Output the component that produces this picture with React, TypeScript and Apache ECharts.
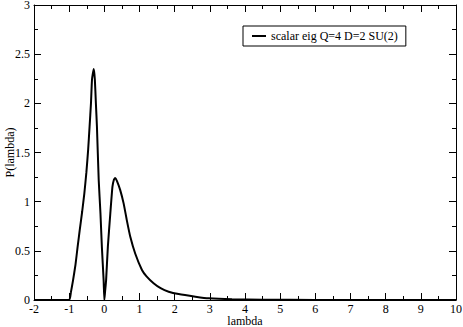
import React, { useEffect, useRef } from "react";
import * as echarts from "echarts";

const lambdaValues = [-2, -1, -0.95, -0.89, -0.82, -0.76, -0.7, -0.63, -0.57, -0.51, -0.46, -0.42, -0.38, -0.35, -0.3, -0.27, -0.24, -0.21, -0.16, -0.11, -0.07, -0.02, 0.0, 0.02, 0.05, 0.1, 0.17, 0.23, 0.27, 0.31, 0.36, 0.45, 0.55, 0.64, 0.74, 0.88, 1.07, 1.2, 1.4, 1.6, 1.83, 2.11, 2.59, 2.97, 3.63, 4.5, 6, 8, 10];
const pValues = [0, 0, 0.08, 0.2, 0.36, 0.54, 0.71, 0.9, 1.08, 1.3, 1.53, 1.76, 2.0, 2.245, 2.35, 2.245, 2.0, 1.76, 1.22, 0.88, 0.54, 0.2, 0.0, 0.08, 0.2, 0.54, 0.88, 1.15, 1.22, 1.24, 1.21, 1.12, 0.98, 0.81, 0.64, 0.47, 0.305, 0.24, 0.17, 0.12, 0.084, 0.06, 0.034, 0.017, 0.007, 0.003, 0.001, 0.0, 0.0];
const seriesName = "scalar eig Q=4 D=2 SU(2)";

const FONT = "'Liberation Serif', 'Times New Roman', serif";

export default function App() {
  const ref = useRef<HTMLDivElement>(null);
  useEffect(() => {
    if (!ref.current) return;
    const chart = echarts.init(ref.current, undefined, { renderer: "svg" });
    const data = lambdaValues.map((x, i) => [x, pValues[i]]);
    const tickStyle = { lineStyle: { color: "#000", width: 1 } };
    chart.setOption({
      animation: false,
      backgroundColor: "#fff",
      grid: { left: 34, right: 7, top: 5, bottom: 27, containLabel: false, outerBoundsMode: "none" },
      legend: {
        left: 243,
        top: 26,
        orient: "horizontal",
        data: [seriesName],
        icon: "rect",
        itemWidth: 14,
        itemHeight: 2,
        itemGap: 6,
        padding: [4, 8, 4, 9],
        borderColor: "#000",
        borderWidth: 1,
        backgroundColor: "#fff",
        textStyle: { fontFamily: FONT, fontSize: 12, color: "#000" },
      },
      xAxis: [
        {
          type: "value",
          min: -2,
          max: 10,
          interval: 1,
          name: "lambda",
          nameLocation: "middle",
          nameGap: 15,
          nameMoveOverlap: false,
          nameTextStyle: { fontFamily: FONT, fontSize: 12, color: "#000" },
          axisLine: { onZero: false, lineStyle: { color: "#000", width: 1 } },
          axisTick: { inside: true, length: 7, ...tickStyle },
          minorTick: { show: true, splitNumber: 2, length: 4, lineStyle: { color: "#000" } },
          axisLabel: { fontFamily: FONT, fontSize: 12, color: "#000", margin: 3 },
          splitLine: { show: false },
        },
        {
          type: "value",
          position: "top",
          min: -2,
          max: 10,
          interval: 1,
          axisLine: { onZero: false, lineStyle: { color: "#000", width: 1 } },
          axisTick: { inside: true, length: 7, ...tickStyle },
          minorTick: { show: true, splitNumber: 2, length: 4, lineStyle: { color: "#000" } },
          axisLabel: { show: false },
          splitLine: { show: false },
        },
      ],
      yAxis: [
        {
          type: "value",
          min: 0,
          max: 3,
          interval: 0.5,
          name: "P(lambda)",
          nameLocation: "middle",
          nameGap: 18,
          nameMoveOverlap: false,
          nameTextStyle: { fontFamily: FONT, fontSize: 12, color: "#000" },
          axisLine: { show: true, onZero: false, lineStyle: { color: "#000", width: 1 } },
          axisTick: { show: true, inside: true, length: 7, ...tickStyle },
          minorTick: { show: true, splitNumber: 2, length: 4, lineStyle: { color: "#000" } },
          axisLabel: { fontFamily: FONT, fontSize: 12, color: "#000", margin: 4 },
          splitLine: { show: false },
        },
        {
          type: "value",
          position: "right",
          min: 0,
          max: 3,
          interval: 0.5,
          axisLine: { show: true, onZero: false, lineStyle: { color: "#000", width: 1 } },
          axisTick: { show: true, inside: true, length: 7, ...tickStyle },
          minorTick: { show: true, splitNumber: 2, length: 4, lineStyle: { color: "#000" } },
          axisLabel: { show: false },
          splitLine: { show: false },
        },
      ],
      series: [
        {
          name: seriesName,
          type: "line",
          data,
          xAxisIndex: 0,
          yAxisIndex: 0,
          showSymbol: false,
          symbol: "none",
          smooth: 0.15,
          lineStyle: { color: "#000", width: 2 },
          itemStyle: { color: "#000" },
        },
      ],
    });
    return () => chart.dispose();
  }, []);
  return <div ref={ref} style={{ width: 463, height: 327, position: "absolute", left: 0, top: 0 }} />;
}
